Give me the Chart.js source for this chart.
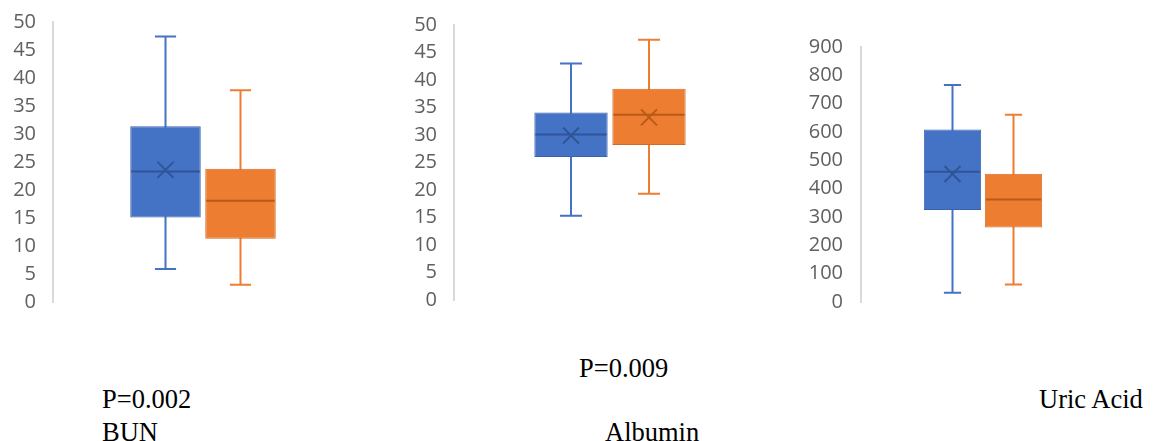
<!DOCTYPE html>
<html>
<head>
<meta charset="utf-8">
<script src="https://cdn.jsdelivr.net/npm/chart.js@4.4.1/dist/chart.umd.min.js"></script>
<style>
body { margin: 0; background: #fff; width: 1154px; height: 441px; position: relative; overflow: hidden; }
canvas { position: absolute; }
.note { position: absolute; font-family: "Liberation Serif", "Times New Roman", serif; font-size: 26.5px; color: #000; line-height: 1; white-space: nowrap; }
</style>
</head>
<body>
<!-- y tick padding (17/18) + half label height (12) sits above and below each plot area -->
<canvas id="bun" width="353" height="338" style="left:0;top:-7px"></canvas>
<canvas id="albumin" width="366" height="333" style="left:400px;top:-4px"></canvas>
<canvas id="uric" width="305" height="315" style="left:800px;top:17px"></canvas>

<div class="note" style="left:579px;top:355px">P=0.009</div>
<div class="note" style="left:102px;top:386px">P=0.002</div>
<div class="note" style="left:1039px;top:386px">Uric Acid</div>
<div class="note" style="left:102px;top:419px">BUN</div>
<div class="note" style="left:605px;top:419px">Albumin</div>

<script>
const groups = ["Group 1", "Group 2"];

// BUN
const bunMin = [5.9, 3.1];
const bunQ1 = [15.1, 11.3];
const bunMedian = [23.3, 18.1];
const bunQ3 = [31.4, 23.8];
const bunMax = [47.4, 37.8];
const bunMean = [23.6, null];
const bunTicks = [0, 50, 5];

// Albumin
const albMin = [15.3, 19.3];
const albQ1 = [26.0, 28.2];
const albMedian = [30.1, 33.7];
const albQ3 = [34.1, 38.4];
const albMax = [43.0, 47.3];
const albMean = [29.9, 33.2];
const albTicks = [0, 50, 5];

// Uric acid
const uricMin = [33, 62];
const uricQ1 = [325, 263];
const uricMedian = [460, 362];
const uricQ3 = [609, 453];
const uricMax = [766, 661];
const uricMean = [452, null];
const uricTicks = [0, 900, 100];

const fills = ["#4472C4", "#ED7D31"];
const edges = ["#3A63AE", "#D46B25"];
const darks = ["#2F5597", "#B85A18"];

function boxPlugin(stats) {
    return {
        id: "boxWhisker",
        beforeDatasetsDraw(chart) {
            const ctx = chart.ctx;
            const y = chart.scales.y;
            chart.data.datasets.forEach((ds, i) => {
                const bar = chart.getDatasetMeta(i).data[0];
                const cap = bar.width * 0.15;
                const top = y.getPixelForValue(stats.max[i]);
                const bottom = y.getPixelForValue(stats.min[i]);
                ctx.save();
                ctx.strokeStyle = fills[i];
                ctx.lineWidth = 2;
                ctx.beginPath();
                ctx.moveTo(bar.x, top);
                ctx.lineTo(bar.x, bottom);
                ctx.moveTo(bar.x - cap, top);
                ctx.lineTo(bar.x + cap, top);
                ctx.moveTo(bar.x - cap, bottom);
                ctx.lineTo(bar.x + cap, bottom);
                ctx.stroke();
                ctx.restore();
            });
        },
        afterDatasetsDraw(chart) {
            const ctx = chart.ctx;
            const y = chart.scales.y;
            chart.data.datasets.forEach((ds, i) => {
                const bar = chart.getDatasetMeta(i).data[0];
                const half = bar.width / 2 - 1;
                const med = y.getPixelForValue(stats.median[i]);
                ctx.save();
                ctx.strokeStyle = darks[i];
                ctx.lineWidth = 2;
                ctx.beginPath();
                ctx.moveTo(bar.x - half, med);
                ctx.lineTo(bar.x + half, med);
                ctx.stroke();
                if (stats.mean[i] !== null) {
                    const m = y.getPixelForValue(stats.mean[i]);
                    const s = 8;
                    ctx.beginPath();
                    ctx.moveTo(bar.x - s, m - s);
                    ctx.lineTo(bar.x + s, m + s);
                    ctx.moveTo(bar.x - s, m + s);
                    ctx.lineTo(bar.x + s, m - s);
                    ctx.stroke();
                }
                ctx.restore();
            });
        }
    };
}

function renderBox(id, stats, ticks, axisWidth, tickPad) {
    const datasets = groups.map((name, i) => ({
        label: name,
        data: [[stats.q1[i], stats.q3[i]]],
        backgroundColor: fills[i],
        borderColor: edges[i],
        borderWidth: 1,
        borderSkipped: false,
    }));
    new Chart(document.getElementById(id), {
        type: "bar",
        data: { labels: [""], datasets: datasets },
        options: {
            responsive: false,
            animation: false,
            devicePixelRatio: 1,
            layout: { padding: 0 },
            categoryPercentage: 0.5,
            barPercentage: 0.94,
            scales: {
                x: { display: false },
                y: {
                    min: ticks[0],
                    max: ticks[1],
                    grid: { display: false, drawTicks: false },
                    border: { display: true, color: "#D9D9D9", width: 2 },
                    ticks: {
                        stepSize: ticks[2],
                        color: "#606060",
                        padding: tickPad,
                        font: { family: "'Open Sans'", size: 20, lineHeight: 1.2 }
                    },
                    afterFit: scale => { scale.width = axisWidth; }
                }
            },
            plugins: {
                legend: { display: false },
                tooltip: { enabled: false }
            }
        },
        plugins: [boxPlugin(stats)]
    });
}

renderBox("bun", { min: bunMin, q1: bunQ1, median: bunMedian, q3: bunQ3, max: bunMax, mean: bunMean }, bunTicks, 53, 17);
renderBox("albumin", { min: albMin, q1: albQ1, median: albMedian, q3: albQ3, max: albMax, mean: albMean }, albTicks, 54, 17);
renderBox("uric", { min: uricMin, q1: uricQ1, median: uricMedian, q3: uricQ3, max: uricMax, mean: uricMean }, uricTicks, 61, 18);
</script>
</body>
</html>
